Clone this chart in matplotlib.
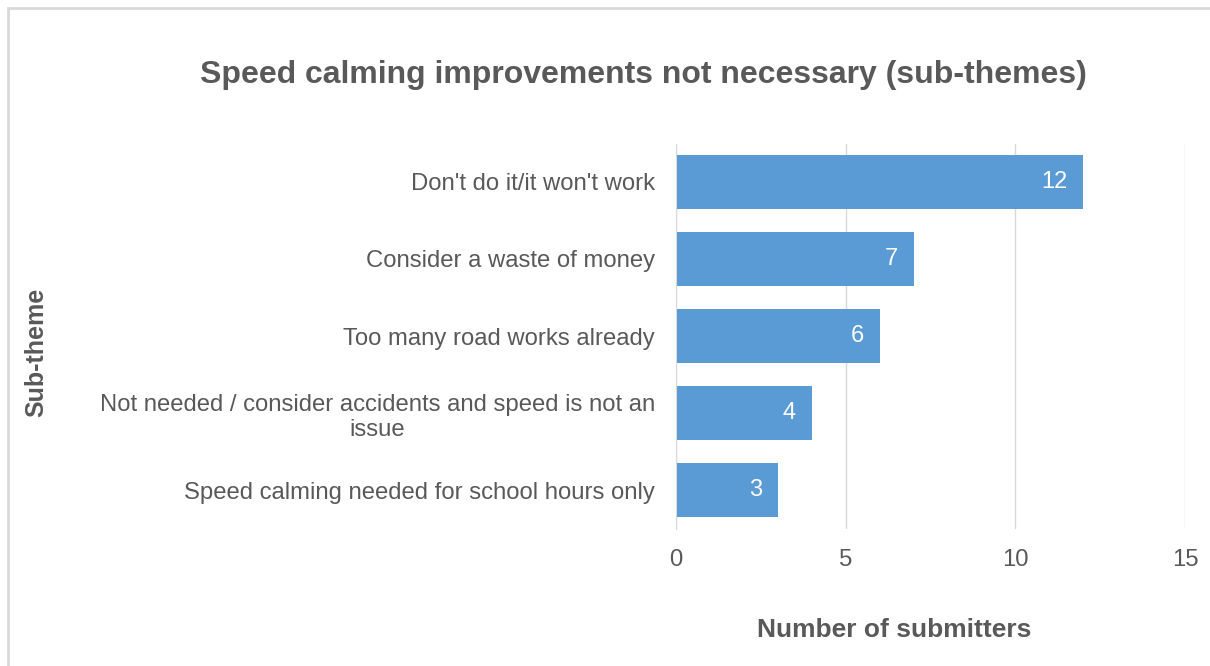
import matplotlib.pyplot as plt
from matplotlib.patches import Rectangle

plt.rcParams['font.family'] = ['Liberation Sans', 'DejaVu Sans']

categories = ["Don't do it/it won't work",
              "Consider a waste of money",
              "Too many road works already",
              "Not needed / consider accidents and speed is not an\nissue",
              "Speed calming needed for school hours only"]
counts = [12, 7, 6, 4, 3]
xticks = [0, 5, 10, 15]

grey = "#595959"
barColor = "#5B9BD5"

fig = plt.figure(figsize=(12.1, 6.66), dpi=100)
ax = fig.add_axes([676/1210, 1 - 528.5/666, 509/1210, 385/666])

# outer chart border
fig.patches.append(Rectangle((8/1210, -0.1), 1.2, 1 - 8/666 + 0.1, transform=fig.transFigure,
                             fill=False, edgecolor="#D9D9D9", linewidth=2))

ypos = list(range(len(categories)))
ax.barh(ypos, counts, height=0.7, color=barColor, zorder=3)
ax.set_ylim(len(categories) - 0.5, -0.5)
ax.set_xlim(0, 15)
ax.set_xticks(xticks)
ax.set_yticks(ypos)
ax.set_yticklabels(categories, fontsize=17.2, color=grey, ha="right", multialignment="center")
ax.tick_params(axis="both", length=0, colors=grey, labelsize=17.2)
ax.tick_params(axis="y", pad=15)
ax.tick_params(axis="x", pad=15)

for i, v in enumerate(counts):
    ax.text(v - 0.47, i, str(v), ha="right", va="center", color="white", fontsize=17, zorder=4)

ax.grid(axis="x", color="#D9D9D9", linewidth=1, zorder=0)
for s in ["top", "right", "bottom"]:
    ax.spines[s].set_visible(False)
ax.spines["left"].set_color("#D9D9D9")
ax.spines["left"].set_zorder(5)

fig.text(643/1210, 1 - 75/666, "Speed calming improvements not necessary (sub-themes)",
         ha="center", va="center", fontsize=23, fontweight="bold", color=grey)
fig.text(894/1210, 1 - 630/666, "Number of submitters",
         ha="center", va="center", fontsize=19, fontweight="bold", color=grey)
fig.text(36/1210, 1 - 352/666, "Sub-theme", rotation=90,
         ha="center", va="center", fontsize=18, fontweight="bold", color=grey)

fig.savefig("out.png", dpi=100)
